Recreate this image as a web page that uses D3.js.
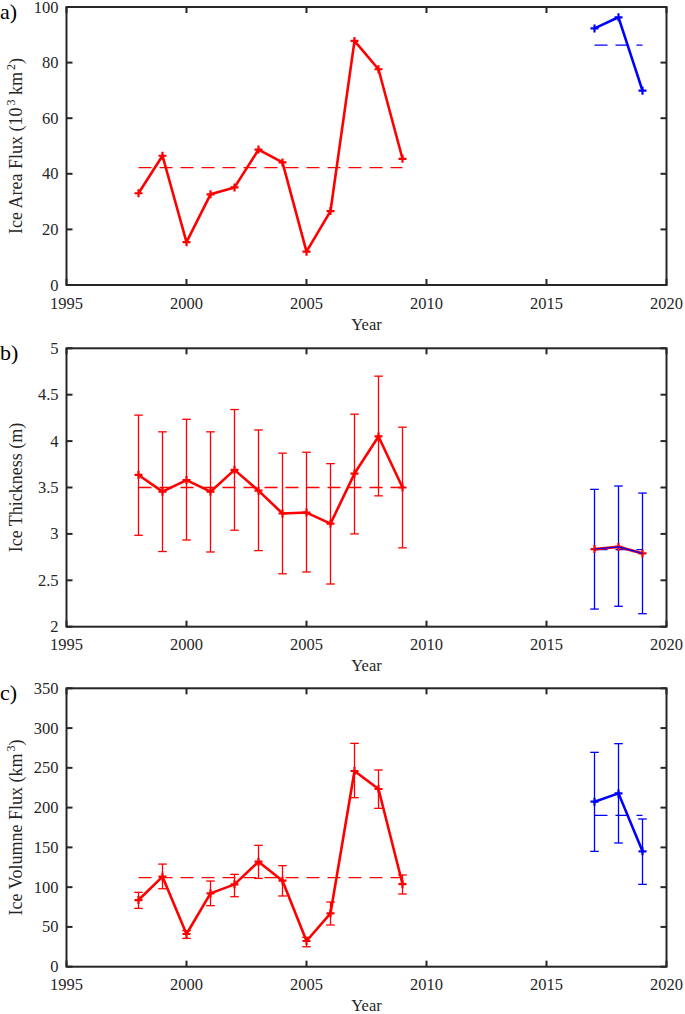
<!DOCTYPE html>
<html><head><meta charset="utf-8">
<script src="https://cdn.jsdelivr.net/npm/d3@7"></script>
<style>body{margin:0;background:#fff}svg{display:block}text{font-family:"Liberation Serif","Times New Roman",serif;fill:#262626}</style>
</head><body>
<script>
// ---- data ----
const yearsRed = [1998,1999,2000,2001,2002,2003,2004,2005,2006,2007,2008,2009];
const yearsBlue = [2017,2018,2019];
const xTicks = [1995,2000,2005,2010,2015,2020];

const areaRed = [33.0,46.5,15.4,32.6,35.1,48.7,44.1,12.0,26.6,87.8,77.6,45.4];
const areaBlue = [92.3,96.3,69.9];
const areaRedMean = 42.2, areaBlueMean = 86.3;
const areaTicks = [0,20,40,60,80,100];

const thickRed = [3.635,3.455,3.58,3.455,3.69,3.466,3.22,3.23,3.11,3.65,4.05,3.50];
const thickRedHi = [4.28,4.10,4.235,4.10,4.34,4.12,3.87,3.88,3.757,4.29,4.70,4.15];
const thickRedLo = [2.985,2.81,2.934,2.805,3.04,2.82,2.57,2.59,2.46,3.00,3.41,2.85];
const thickBlue = [2.837,2.86,2.79];
const thickBlueHi = [3.48,3.516,3.44];
const thickBlueLo = [2.19,2.22,2.14];
const thickRedMean = 3.50, thickBlueMean = 2.83;
const thickTicks = [2,2.5,3,3.5,4,4.5,5];
const thickTickLabels = ["2","2.5","3","3.5","4","4.5","5"];

const volRed = [83.8,113.2,41.1,92.2,103.5,132.0,108.1,32.3,67.1,246.0,223.4,103.9];
const volRedHi = [93.5,129.0,45.3,107.7,116.1,152.6,127.0,36.9,81.3,280.8,247.3,115.3];
const volRedLo = [73.3,98.0,35.6,76.7,88.0,111.0,88.9,25.1,52.4,212.5,199.1,91.4];
const volBlue = [207.5,217.9,145.0];
const volBlueHi = [269.5,280.4,185.7];
const volBlueLo = [145.0,155.5,103.5];
const volRedMean = 111.9, volBlueMean = 190.3;
const volTicks = [0,50,100,150,200,250,300,350];

// ---- drawing ----
const W = 685, H = 1014;
const svg = d3.select("body").append("svg").attr("width", W).attr("height", H);
const AX = "#262626";
const RED = "#ff0000", BLUE = "#0000ff";
const x = d3.scaleLinear().domain([1995,2020]).range([66.5,666.5]);

const panels = [
  {label:"a)", top:7, bottom:285, domain:[0,100], ticks:areaTicks, tickLabels:areaTicks.map(String),
   ylabel:[["Ice Area Flux (10",0],["3",1],[" km",0],["2",1],[")",0]],
   red:areaRed, blue:areaBlue, redMean:areaRedMean, blueMean:areaBlueMean},
  {label:"b)", top:348.3, bottom:626.7, domain:[2,5], ticks:thickTicks, tickLabels:thickTickLabels,
   ylabel:[["Ice Thickness (m)",0]],
   red:thickRed, redHi:thickRedHi, redLo:thickRedLo, blue:thickBlue, blueHi:thickBlueHi, blueLo:thickBlueLo,
   redMean:thickRedMean, blueMean:thickBlueMean, overlay:true},
  {label:"c)", top:688.3, bottom:966.7, domain:[0,350], ticks:volTicks, tickLabels:volTicks.map(String),
   ylabel:[["Ice Volumne Flux (km",0],["3",1],[")",0]],
   red:volRed, redHi:volRedHi, redLo:volRedLo, blue:volBlue, blueHi:volBlueHi, blueLo:volBlueLo,
   redMean:volRedMean, blueMean:volBlueMean}
];

panels.forEach(p => {
  const y = d3.scaleLinear().domain(p.domain).range([p.bottom, p.top]);
  const g = svg.append("g");
  const x0 = x.range()[0], x1 = x.range()[1];

  // mean dashed lines
  const dash = (yrs, val, col) => g.append("line")
    .attr("x1", x(yrs[0])).attr("x2", x(yrs[yrs.length-1]))
    .attr("y1", y(val)).attr("y2", y(val))
    .attr("stroke", col).attr("stroke-width", 1.3).attr("stroke-dasharray", "13,8");
  dash(yearsRed, p.redMean, RED);
  dash(yearsBlue, p.blueMean, BLUE);

  // error bars
  const errs = (yrs, lo, hi, col) => {
    if (!lo) return;
    yrs.forEach((yr, i) => {
      const cx = x(yr);
      g.append("line").attr("x1",cx).attr("x2",cx).attr("y1",y(lo[i])).attr("y2",y(hi[i]))
        .attr("stroke",col).attr("stroke-width",1.3);
      [lo[i],hi[i]].forEach(v => g.append("line").attr("x1",cx-4.3).attr("x2",cx+4.3)
        .attr("y1",y(v)).attr("y2",y(v)).attr("stroke",col).attr("stroke-width",1.3));
    });
  };
  errs(yearsRed, p.redLo, p.redHi, RED);
  errs(yearsBlue, p.blueLo, p.blueHi, BLUE);

  const line = d3.line().x(d => x(d[0])).y(d => y(d[1]));
  const series = (yrs, vals, col, w) => {
    const pts = yrs.map((yr,i) => [yr, vals[i]]);
    g.append("path").attr("d", line(pts)).attr("fill","none")
      .attr("stroke", col).attr("stroke-width", w).attr("stroke-linejoin","round");
    return pts;
  };
  const markers = (pts, col) => pts.forEach(d => {
    const cx = x(d[0]), cy = y(d[1]);
    g.append("path").attr("d", `M${cx-4},${cy}H${cx+4}M${cx},${cy-4}V${cy+4}`)
      .attr("stroke", col).attr("stroke-width", 2.2);
  });

  const pr = series(yearsRed, p.red, RED, 2.6);
  markers(pr, RED);
  if (p.overlay) {
    const pb = series(yearsBlue, p.blue, RED, 2.8);
    markers(pb, RED);
    series(yearsBlue, p.blue, BLUE, 1.2);
  } else {
    const pb = series(yearsBlue, p.blue, BLUE, 2.6);
    markers(pb, BLUE);
  }

  // axes box
  g.append("rect").attr("x", x0).attr("y", p.top).attr("width", x1-x0).attr("height", p.bottom-p.top)
    .attr("fill","none").attr("stroke", AX).attr("stroke-width", 2);
  const TL = 6;
  xTicks.forEach(t => {
    const tx = x(t);
    g.append("line").attr("x1",tx).attr("x2",tx).attr("y1",p.bottom).attr("y2",p.bottom-TL).attr("stroke",AX).attr("stroke-width",2);
    g.append("line").attr("x1",tx).attr("x2",tx).attr("y1",p.top).attr("y2",p.top+TL).attr("stroke",AX).attr("stroke-width",2);
    g.append("text").attr("x",tx).attr("y",p.bottom+18).attr("text-anchor","middle")
      .attr("dominant-baseline","central").attr("font-size",16.5).text(t);
  });
  p.ticks.forEach((t,i) => {
    const ty = y(t);
    g.append("line").attr("x1",x0).attr("x2",x0+TL).attr("y1",ty).attr("y2",ty).attr("stroke",AX).attr("stroke-width",2);
    g.append("line").attr("x1",x1).attr("x2",x1-TL).attr("y1",ty).attr("y2",ty).attr("stroke",AX).attr("stroke-width",2);
    g.append("text").attr("x",x0-8).attr("y",ty).attr("text-anchor","end")
      .attr("dominant-baseline","central").attr("font-size",16.5).text(p.tickLabels[i]);
  });

  // x label
  g.append("text").attr("x", (x0+x1)/2).attr("y", p.bottom+39).attr("text-anchor","middle")
    .attr("dominant-baseline","central").attr("font-size",16.5).text("Year");

  // y label
  const yc = (p.top+p.bottom)/2;
  const yl = g.append("text").attr("transform", `translate(22,${yc}) rotate(-90)`)
    .attr("text-anchor","middle").attr("font-size",18);
  let raised = 0;
  p.ylabel.forEach(([s, sup]) => {
    const ts = yl.append("tspan").text(s);
    if (sup && !raised) { ts.attr("dy",-7).attr("font-size",12).attr("dx",2); raised = 1; }
    else if (!sup && raised) { ts.attr("dy",7); raised = 0; }
  });

  // panel label
  g.append("text").attr("x", 0).attr("y", p.top+12).attr("font-size",22)
    .style("fill","#000").text(p.label);
});
</script>
</body></html>
